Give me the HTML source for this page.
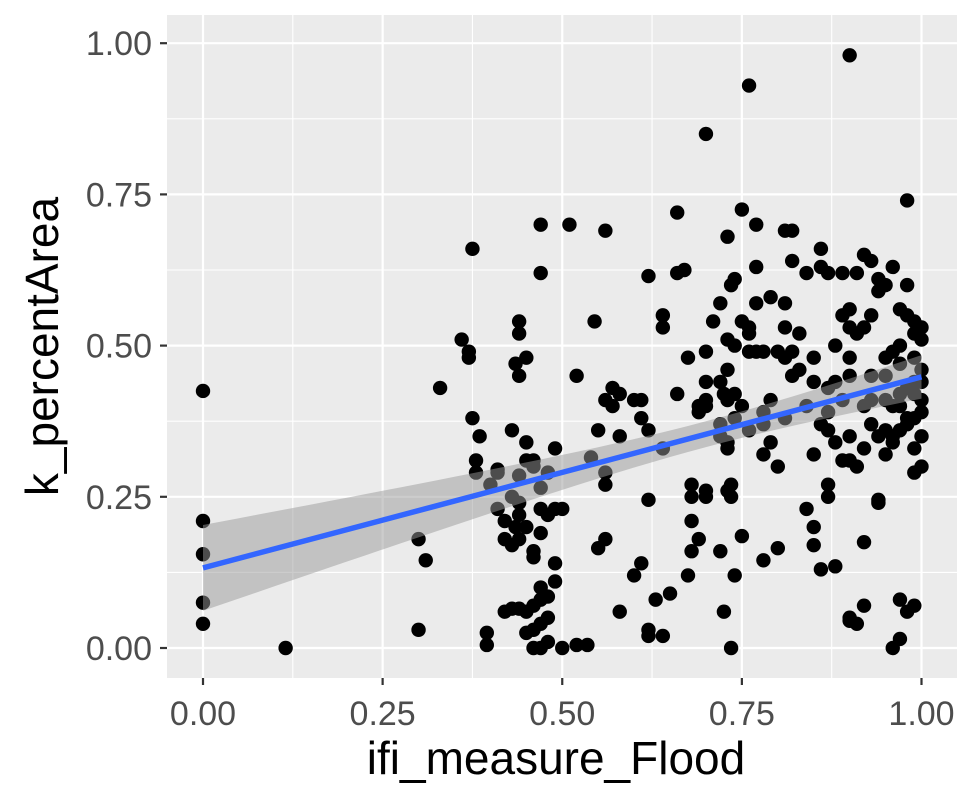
<!DOCTYPE html>
<html><head><meta charset="utf-8"><style>
html,body{margin:0;padding:0;background:#fff;width:979px;height:806px;overflow:hidden}
svg{display:block;font-family:"Liberation Sans",Arial,sans-serif}
</style></head><body>
<svg id="chart" width="979" height="806" viewBox="0 0 979 806" xmlns="http://www.w3.org/2000/svg"></svg>
<script>
const xTicks=[0,0.25,0.5,0.75,1];
const xTickLabels=["0.00","0.25","0.50","0.75","1.00"];
const yTicks=[0,0.25,0.5,0.75,1];
const yTickLabels=["0.00","0.25","0.50","0.75","1.00"];
const groupX=[0,0.115,0.30,0.31,0.33,0.36,0.37,0.375,0.38,0.385,0.395,0.40,0.41,0.42,0.43,0.435,0.44,0.45,0.46,0.47,0.48,0.49,0.50,0.51,0.52,0.535,0.54,0.545,0.55,0.56,0.57,0.58,0.60,0.61,0.62,0.63,0.64,0.65,0.66,0.67,0.675,0.68,0.69,0.70,0.71,0.72,0.725,0.73,0.735,0.74,0.75,0.76,0.77,0.78,0.79,0.80,0.81,0.82,0.83,0.84,0.85,0.86,0.87,0.88,0.89,0.90,0.91,0.92,0.93,0.94,0.95,0.96,0.97,0.98,0.99,1.0];
const groupY=[
[.425,.21,.155,.075,.04],[0],[.18,.03],[.145],[.43],[.51],[.49,.48],[.66,.38],[.31,.29],[.35],[.025,.005],[.27],[.23,.29,.295],[.21,.18,.06],[.36,.25,.17,.065],[.47,.20],
[.54,.52,.45,.285,.24,.22,.18,.065],[.48,.34,.31,.20,.025,.06],[.31,.30,.16,.15,.07,.03,0],[.70,.62,.265,.23,.19,.10,.08,.04,0],[.29,.22,.085,.05,.01],[.33,.23,.11,.14],[.23,0],[.70],[.45,.005],[.005],[.315],[.54],[.36,.165],[.69,.41,.29,.27,.18],[.43,.40],[.35,.42,.06],[.41,.12],[.41,.38,.14],[.615,.36,.245,.03,.02],[.08],[.55,.53,.33,.02],[.09],[.72,.62,.42],[.625],[.48,.12],[.27,.25,.21,.16],[.40,.39,.18],[.85,.49,.44,.41,.40,.26,.25],[.54],[.57,.44,.37,.35,.16],[.42,.06],[.68,.51,.46,.41,.34,.33,.26],[0,.27,.25,.60],[.61,.50,.42,.38,.12],[.725,.54,.40,.185],[.93,.52,.53,.49,.36],[.70,.63,.57,.49],[.49,.39,.32,.37,.145],[.58,.41,.34],[.49,.30,.165],[.69,.57,.53,.48,.38],[.69,.64,.49,.45],[.52,.46],[.62,.40,.23],[.48,.44,.32,.20,.17],[.66,.63,.37,.13],[.62,.43,.39,.36,.27,.25],[.50,.44,.34,.135],[.62,.55,.41,.31],[.98,.56,.53,.48,.45,.35,.31,.05,.045],[.62,.52,.30,.04],[.65,.53,.40,.33,.175,.07],[.64,.55,.45,.41,.37],[.61,.59,.35,.245,.24],[.60,.48,.45,.41,.36,.32],[.63,.49,.40,.35,.34,0],[.56,.50,.47,.42,.40,.36,.015,.08],[.74,.60,.55,.43,.38,.37,.06],[.54,.52,.48,.44,.42,.38,.33,.29,.07],[.53,.51,.46,.44,.41,.39,.35,.30]];

const svg=document.getElementById('chart');
const NS='http://www.w3.org/2000/svg';
const P={l:167,r:957,t:15,b:678};
const xs=v=>203+v*718.5;
const ys=v=>648-v*604.8;
function mk(t,a){const e=document.createElementNS(NS,t);for(const k in a)e.setAttribute(k,a[k]);svg.appendChild(e);return e;}

let bg=mk('rect',{x:P.l,y:P.t,width:P.r-P.l,height:P.b-P.t,fill:'#EBEBEB'});


for(let i=0;i<xTicks.length-1;i++){const v=(xTicks[i]+xTicks[i+1])/2;let g=mk('line',{x1:xs(v),x2:xs(v),y1:P.t,y2:P.b,stroke:'#fff','stroke-width':1.1});

}
for(let i=0;i<yTicks.length-1;i++){const v=(yTicks[i]+yTicks[i+1])/2;let g=mk('line',{y1:ys(v),y2:ys(v),x1:P.l,x2:P.r,stroke:'#fff','stroke-width':1.1});

}
xTicks.forEach((v,i)=>{let g=mk('line',{x1:xs(v),x2:xs(v),y1:P.t,y2:P.b,stroke:'#fff','stroke-width':2.2});


let t=mk('line',{x1:xs(v),x2:xs(v),y1:P.b,y2:P.b+7,stroke:'#333','stroke-width':2.2});


let l=mk('text',{x:xs(v),y:P.b+47,'text-anchor':'middle','font-size':34,fill:'#4D4D4D'});l.textContent=xTickLabels[i];

});
yTicks.forEach((v,i)=>{let g=mk('line',{y1:ys(v),y2:ys(v),x1:P.l,x2:P.r,stroke:'#fff','stroke-width':2.2});


let t=mk('line',{y1:ys(v),y2:ys(v),x1:P.l-7,x2:P.l,stroke:'#333','stroke-width':2.2});


let l=mk('text',{x:P.l-15,y:ys(v)+12,'text-anchor':'end','font-size':34,fill:'#4D4D4D'});l.textContent=yTickLabels[i];

});

const X=[],Y=[];
groupX.forEach((gx,i)=>groupY[i].forEach(y=>{X.push(gx);Y.push(y);}));
X.forEach((x,i)=>{let c=mk('circle',{cx:xs(x),cy:ys(Y[i]),r:7.2,fill:'#000'});

});

const n=X.length,mx=X.reduce((a,b)=>a+b)/n,my=Y.reduce((a,b)=>a+b)/n;
let sxx=0,sxy=0;X.forEach((x,i)=>{sxx+=(x-mx)**2;sxy+=(x-mx)*(Y[i]-my);});
const b=sxy/sxx,a=my-b*mx;let sse=0;X.forEach((x,i)=>{sse+=(Y[i]-a-b*x)**2;});
const s=Math.sqrt(sse/(n-2));const x0=Math.min(...X),x1=Math.max(...X);
let up=[],lo=[];
for(let k=0;k<=40;k++){const x=x0+(x1-x0)*k/40;const se=s*Math.sqrt(1/n+(x-mx)**2/sxx)*1.97;const f=a+b*x;up.push(xs(x)+','+ys(f+se));lo.unshift(xs(x)+','+ys(f-se));}
let band=mk('polygon',{points:up.concat(lo).join(' '),fill:'#999',opacity:0.5});


let ln=mk('line',{x1:xs(x0),y1:ys(a+b*x0),x2:xs(x1),y2:ys(a+b*x1),stroke:'#3366FF','stroke-width':5.5});



let xt=mk('text',{x:556,y:774,'text-anchor':'middle','font-size':46,fill:'#000'});xt.textContent='ifi_measure_Flood';


let yt=mk('text',{x:0,y:0,'text-anchor':'middle','font-size':46,fill:'#000',transform:'translate(58,'+(P.t+P.b)/2+') rotate(-90)'});yt.textContent='k_percentArea';


</script>
</body></html>
